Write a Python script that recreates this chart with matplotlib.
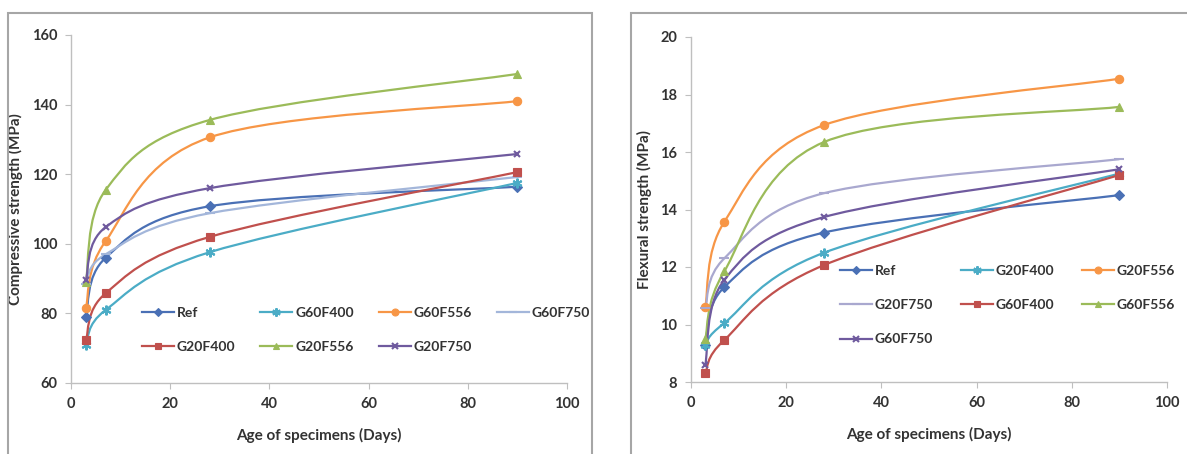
import numpy as np
import matplotlib
matplotlib.use("Agg")
import matplotlib.pyplot as plt
from matplotlib.path import Path
from matplotlib.patches import PathPatch, Rectangle
from matplotlib.lines import Line2D

plt.rcParams['font.family'] = ['Lato', 'DejaVu Sans']

# ages of specimens (days)
days = [3, 7, 28, 90]

# compressive strength (MPa)
comp_names = ["Ref", "G60F400", "G60F556", "G60F750", "G20F400", "G20F556", "G20F750"]
comp_ref = [79.0, 96.0, 110.8, 116.4]
comp_g60f400 = [71.0, 81.0, 97.6, 117.5]
comp_g60f556 = [81.5, 100.8, 130.6, 141.0]
comp_g60f750 = [88.5, 97.0, 108.8, 119.2]
comp_g20f400 = [72.3, 85.8, 102.0, 120.6]
comp_g20f556 = [89.0, 115.5, 135.6, 148.8]
comp_g20f750 = [89.6, 104.8, 116.0, 125.8]

# flexural strength (MPa)
flex_names = ["Ref", "G20F400", "G20F556", "G20F750", "G60F400", "G60F556", "G60F750"]
flex_ref = [9.3, 11.3, 13.2, 14.5]
flex_g20f400 = [9.3, 10.05, 12.5, 15.25]
flex_g20f556 = [10.6, 13.57, 16.94, 18.55]
flex_g20f750 = [10.57, 12.3, 14.57, 15.75]
flex_g60f400 = [8.3, 9.46, 12.07, 15.2]
flex_g60f556 = [9.5, 11.85, 16.35, 17.57]
flex_g60f750 = [8.6, 11.55, 13.74, 15.4]

comp_values = [comp_ref, comp_g60f400, comp_g60f556, comp_g60f750,
               comp_g20f400, comp_g20f556, comp_g20f750]
flex_values = [flex_ref, flex_g20f400, flex_g20f556, flex_g20f750,
               flex_g60f400, flex_g60f556, flex_g60f750]

# excel-like styles: (color, marker, markersize)
BLUE = ("#4A70B5", "D", 5)
CYAN = ("#4BACC6", (6, 2, 0), 7)
ORANGE = ("#F79646", "o", 6)
LBLUE = ("#A3B6DA", "_", 7)
RED = ("#C0504D", "s", 6)
GREEN = ("#9BBB59", "^", 6)
PURPLE = ("#6F5A9E", "x", 5)
comp_styles = [BLUE, CYAN, ORANGE, LBLUE, RED, GREEN, PURPLE]
flex_styles = [BLUE, CYAN, ORANGE, ("#A9A8CF", "_", 7), RED, GREEN, PURPLE]

TXT = "#333333"
W, H = 1187, 454


def smooth_path(x, y):
    """bezier path through the points, like excel's smoothed line"""
    pts = np.column_stack([x, y]).astype(float)
    n = len(pts)
    verts = [pts[0]]
    codes = [Path.MOVETO]
    for i in range(n - 1):
        p0 = pts[i - 1] if i > 0 else pts[i]
        p1, p2 = pts[i], pts[i + 1]
        p3 = pts[i + 2] if i + 2 < n else pts[i + 1]
        verts += [p1 + (p2 - p0) / 6.0, p2 - (p3 - p1) / 6.0, p2]
        codes += [Path.CURVE4] * 3
    return Path(verts, codes)


def draw_panel(ax, names, values, styles, ylim, yticks, ylabel):
    handles = []
    for name, vals, (col, mk, ms) in zip(names, values, styles):
        ax.add_patch(PathPatch(smooth_path(days, vals), facecolor="none",
                               edgecolor=col, lw=1.6, zorder=2))
        mew = 1.5 if mk in ("x", "_", (6, 2, 0)) else 0.8
        ax.plot(days, vals, linestyle="none", marker=mk, ms=ms, color=col,
                mec=col, mew=mew, zorder=3)
        handles.append(Line2D([], [], color=col, lw=1.6, marker=mk, ms=ms - 1,
                              mec=col, mew=mew, label=name))
    ax.set_xlim(0, 100)
    ax.set_ylim(*ylim)
    ax.set_xticks(range(0, 101, 20))
    ax.set_yticks(yticks)
    for s in ("top", "right"):
        ax.spines[s].set_visible(False)
    for s in ("left", "bottom"):
        ax.spines[s].set_color("#BFBFBF")
        ax.spines[s].set_linewidth(1.0)
    ax.tick_params(direction="out", length=4, color="#BFBFBF", labelsize=10.5,
                   labelcolor=TXT, pad=6)
    for lab in ax.get_xticklabels() + ax.get_yticklabels():
        lab.set_fontweight("bold")
    ax.set_xlabel("Age of specimens (Days)", fontsize=11, fontweight="bold",
                  color=TXT, labelpad=12)
    ax.set_ylabel(ylabel, fontsize=11, fontweight="bold", color=TXT, labelpad=6)
    return handles


fig = plt.figure(figsize=(W / 100, H / 100), dpi=100)

# chart area borders
fig.patches.append(Rectangle((8 / W, -0.05), 584 / W, 1.05 - 13 / H,
                             transform=fig.transFigure, fill=False,
                             ec="#A6A6A6", lw=1.5))
fig.patches.append(Rectangle((631 / W, -0.05), 0.5, 1.05 - 13 / H,
                             transform=fig.transFigure, fill=False,
                             ec="#A6A6A6", lw=1.5))

ax1 = fig.add_axes([71 / W, 1 - 383 / H, 496 / W, 348 / H])
ax2 = fig.add_axes([691 / W, 1 - 382 / H, 476 / W, 345 / H])

h1 = draw_panel(ax1, comp_names, comp_values, comp_styles, (60, 160),
                range(60, 161, 20), "Compressive strength (MPa)")
h2 = draw_panel(ax2, flex_names, flex_values, flex_styles, (8, 20),
                range(8, 21, 2), "Flexural strength (MPa)")

# legends fill column by column, so reorder to read row by row
h1 = [h1[i] for i in (0, 4, 1, 5, 2, 6, 3)]
h2 = [h2[i] for i in (0, 3, 6, 1, 4, 2, 5)]

leg_kw = dict(frameon=False, loc="upper left", handlelength=2.3,
              handletextpad=0.2, labelspacing=1.6, borderpad=0,
              borderaxespad=0, prop={"size": 10, "weight": "bold"},
              labelcolor=TXT)
fig.legend(handles=h1, ncol=4, columnspacing=1.8,
           bbox_to_anchor=(142 / W, 1 - 307 / H),
           bbox_transform=fig.transFigure, **leg_kw)
fig.legend(handles=h2, ncol=3, columnspacing=2.0,
           bbox_to_anchor=(840 / W, 1 - 265 / H),
           bbox_transform=fig.transFigure, **leg_kw)

fig.savefig("out.png", dpi=100)
